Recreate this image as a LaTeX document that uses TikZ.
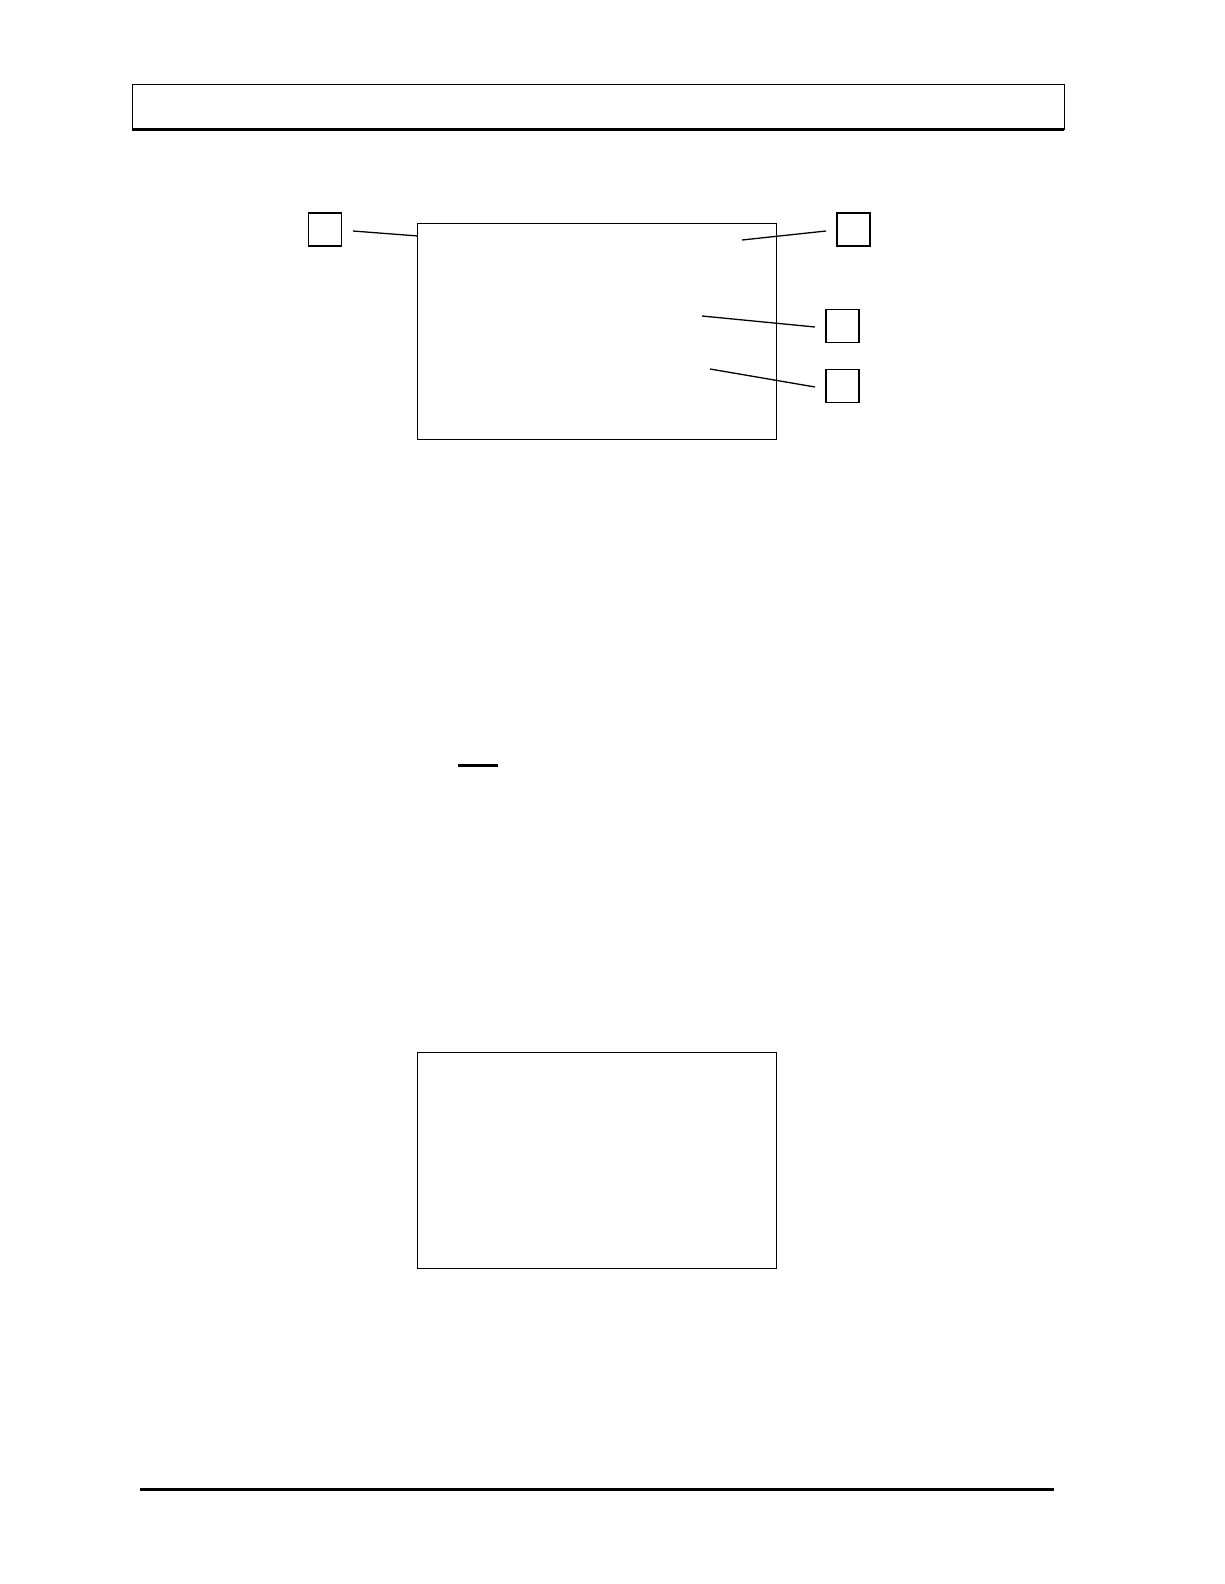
\documentclass[tikz,border=0pt]{standalone}
\begin{document}
\begin{tikzpicture}[x=1pt,y=-1pt,
  frame/.style={draw,line width=1pt,inner sep=0pt,outer sep=0pt},
  tag/.style={draw,line width=1.3pt,minimum width=33pt,minimum height=33pt,inner sep=0pt,outer sep=0pt},
  lead/.style={line width=1.3pt},
  rule/.style={line width=3pt}]
\useasboundingbox[fill=white] (0,0) rectangle (1224,1584);
% header bar
\node[frame,minimum width=932pt,minimum height=45pt] (header) at (598,107) {};
\draw[line width=2.4pt] (header.south west) -- (header.south east);
% upper box and tags
\node[frame,minimum width=359pt,minimum height=216pt] (boxA) at (596.5,331) {};
\node[tag] (t1) at (325.3,229.5) {};
\node[tag] (t2) at (853.5,229.5) {};
\node[tag] (t3) at (842.5,326) {};
\node[tag] (t4) at (842.5,386) {};
\coordinate (a1) at (418,236);
\coordinate (b1) at (353,231);
\coordinate (a2) at (742,240);
\coordinate (b2) at (826,231);
\coordinate (a3) at (702,316);
\coordinate (b3) at (815,327);
\coordinate (a4) at (710,369);
\coordinate (b4) at (815,387);
\draw[lead] (b1) -- (a1);
\draw[lead] (a2) -- (b2);
\draw[lead] (a3) -- (b3);
\draw[lead] (a4) -- (b4);
% short rule
\coordinate (s1) at (458,765.5);
\coordinate (s2) at (497.5,765.5);
\draw[line width=2.4pt] (s1) -- (s2);
% lower box
\node[frame,minimum width=359pt,minimum height=216pt] (boxB) at (596.5,1160) {};
% footer rule
\coordinate (f1) at (140,1489);
\coordinate (f2) at (1054,1489);
\draw[rule] (f1) -- (f2);
\end{tikzpicture}
\end{document}
